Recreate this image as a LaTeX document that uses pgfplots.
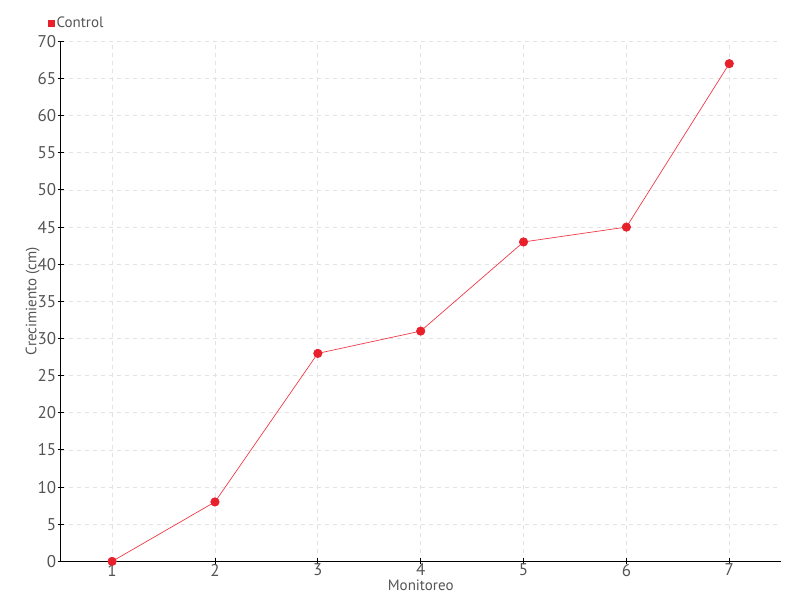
\documentclass[border=0pt]{standalone}
\usepackage{pgfplots}
\pgfplotsset{compat=1.18}
\usepackage{fontspec}
\setmainfont{PT Sans}
\definecolor{ser}{HTML}{E8202C}
\definecolor{lin}{HTML}{F03A48}
\definecolor{txt}{HTML}{555555}
\definecolor{grd}{HTML}{E2E2E2}
\begin{document}
\begin{tikzpicture}[x=1pt,y=1pt]
\begin{axis}[
  at={(59,52)}, anchor=south west,
  scale only axis, width=720pt, height=520pt,
  xmin=0.5, xmax=7.5, ymin=0, ymax=70,
  xtick={1,...,7}, ytick={0,5,...,70},
  axis x line=bottom, axis y line=left,
  axis line style={-, black, line width=0.9pt},
  tick style={black, line width=0.9pt},
  tick align=center, major tick length=6pt,
  grid=major,
  grid style={grd, dash pattern=on 4pt off 4pt, line width=0.8pt},
  tick label style={font=\fontsize{17}{18}\selectfont, text=txt},
  /pgf/number format/assume math mode=true,
  xticklabel style={yshift=4pt},
  yticklabel style={xshift=2pt},
  xlabel={Monitoreo}, ylabel={Crecimiento (cm)},
  label style={font=\fontsize{15}{16}\selectfont, text=txt},
  xlabel style={yshift=3pt},
  ylabel style={yshift=-9pt},
  legend style={at={(rel axis cs:-0.018,1.035)}, anchor=west, draw=none, fill=none,
    font=\fontsize{15}{16}\selectfont, text=txt, inner sep=0pt,
    legend cell align=left},
  legend image code/.code={\fill[ser] (0pt,-3pt) rectangle (6pt,3pt);},
  clip=false,
]
\addplot[color=lin, line width=0.7pt, mark=*, mark size=4.2pt,
  mark options={fill=ser, draw=ser}]
  coordinates {(1,0) (2,8) (3,28) (4,31) (5,43) (6,45) (7,67)};
\addlegendentry{Control}
\end{axis}
\pgfresetboundingbox
\useasboundingbox (0,0) rectangle (800,600);
\end{tikzpicture}
\end{document}
